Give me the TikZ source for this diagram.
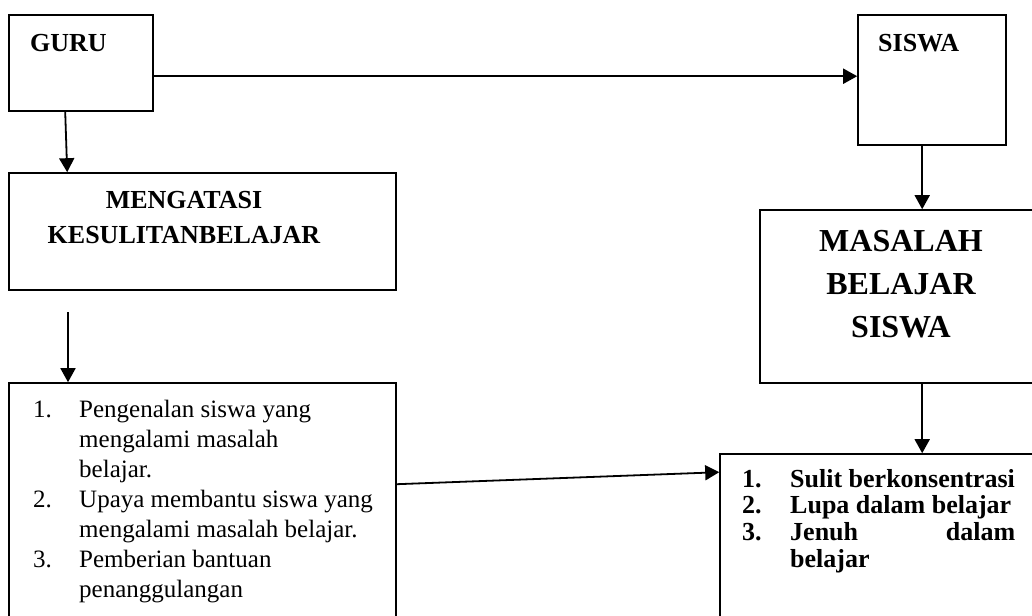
\documentclass[tikz,border=0pt]{standalone}
\usepackage{fontspec}
\setmainfont{Liberation Serif}
\usetikzlibrary{arrows.meta,calc}
\begin{document}
\begin{tikzpicture}[x=1pt,y=-1pt,
  box/.style={draw,line width=1.6pt,rectangle,inner sep=0pt},
  arr/.style={line width=1.8pt,-{Triangle[length=14pt,width=15pt]}},
  txt/.style={inner sep=0pt,anchor=base west},
  ctxt/.style={inner sep=0pt,anchor=base}]
\useasboundingbox (0,0) rectangle (1032,615);
\fill[white] (0,0) rectangle (1032,615);
% boxes
\node[box,minimum width=144pt,minimum height=96pt] (guru) at (81,63) {};
\node[box,minimum width=148pt,minimum height=130pt] (siswa) at (932,80) {};
\node[box,minimum width=387pt,minimum height=117pt] (meng) at (202.5,231.5) {};
\node[box,minimum width=284pt,minimum height=173pt] (masalah) at (902,296.5) {};
\node[box,minimum width=387pt,minimum height=245pt] (listl) at (202.5,505.5) {};
\node[box,minimum width=320pt,minimum height=170pt] (listr) at (880,539) {};
% texts
\node[txt,font=\fontsize{26}{30}\selectfont\bfseries] (tguru) at (30,52) {GURU};
\node[txt,font=\fontsize{26}{30}\selectfont\bfseries] (tsiswa) at (878,52) {SISWA};
\node[ctxt,font=\fontsize{26}{35}\selectfont\bfseries] (tmeng) at (184,208)
  {\begin{tabular}[t]{@{}c@{}}MENGATASI\\KESULITANBELAJAR\end{tabular}};
\node[ctxt,font=\fontsize{32}{43}\selectfont\bfseries] (tmas) at (901,251)
  {\begin{tabular}[t]{@{}c@{}}MASALAH\\BELAJAR\\SISWA\end{tabular}};
\node[txt,font=\fontsize{25}{30}\selectfont] (tlistl) at (33,417)
  {\begin{tabular}[t]{@{}p{46pt}@{}l@{}}
  1.& Pengenalan siswa yang\\
    & mengalami masalah\\
    & belajar.\\
  2.& Upaya membantu siswa yang\\
    & mengalami masalah belajar.\\
  3.& Pemberian bantuan\\
    & penanggulangan
  \end{tabular}};
\node[txt,font=\fontsize{26}{26.7}\selectfont\bfseries] (tlistr) at (742,487)
  {\begin{tabular}[t]{@{}p{48pt}@{}l@{}}
  1.& Sulit berkonsentrasi\\
  2.& Lupa dalam belajar\\
  3.& \hbox to 225pt{Jenuh\hfill dalam}\\
    & belajar
  \end{tabular}};
% connectors
\draw[arr] ($(guru.north east)+(0,62)$) -- ($(siswa.north west)+(0,62)$);
\draw[arr] ($(guru.south west)+(57,0)$) -- ($(meng.north west)+(59,0)$);
\coordinate (free) at (68,312);
\draw[arr] (free) -- (free |- listl.north);
\draw[arr] ($(siswa.south west)+(65,0)$) -- ($(masalah.north west)+(163,0)$);
\draw[arr] ($(masalah.south west)+(163,0)$) -- ($(listr.north west)+(203,0)$);
\draw[arr] ($(listl.north east)+(0,102)$) -- ($(listr.north west)+(0,19)$);
\end{tikzpicture}
\end{document}
